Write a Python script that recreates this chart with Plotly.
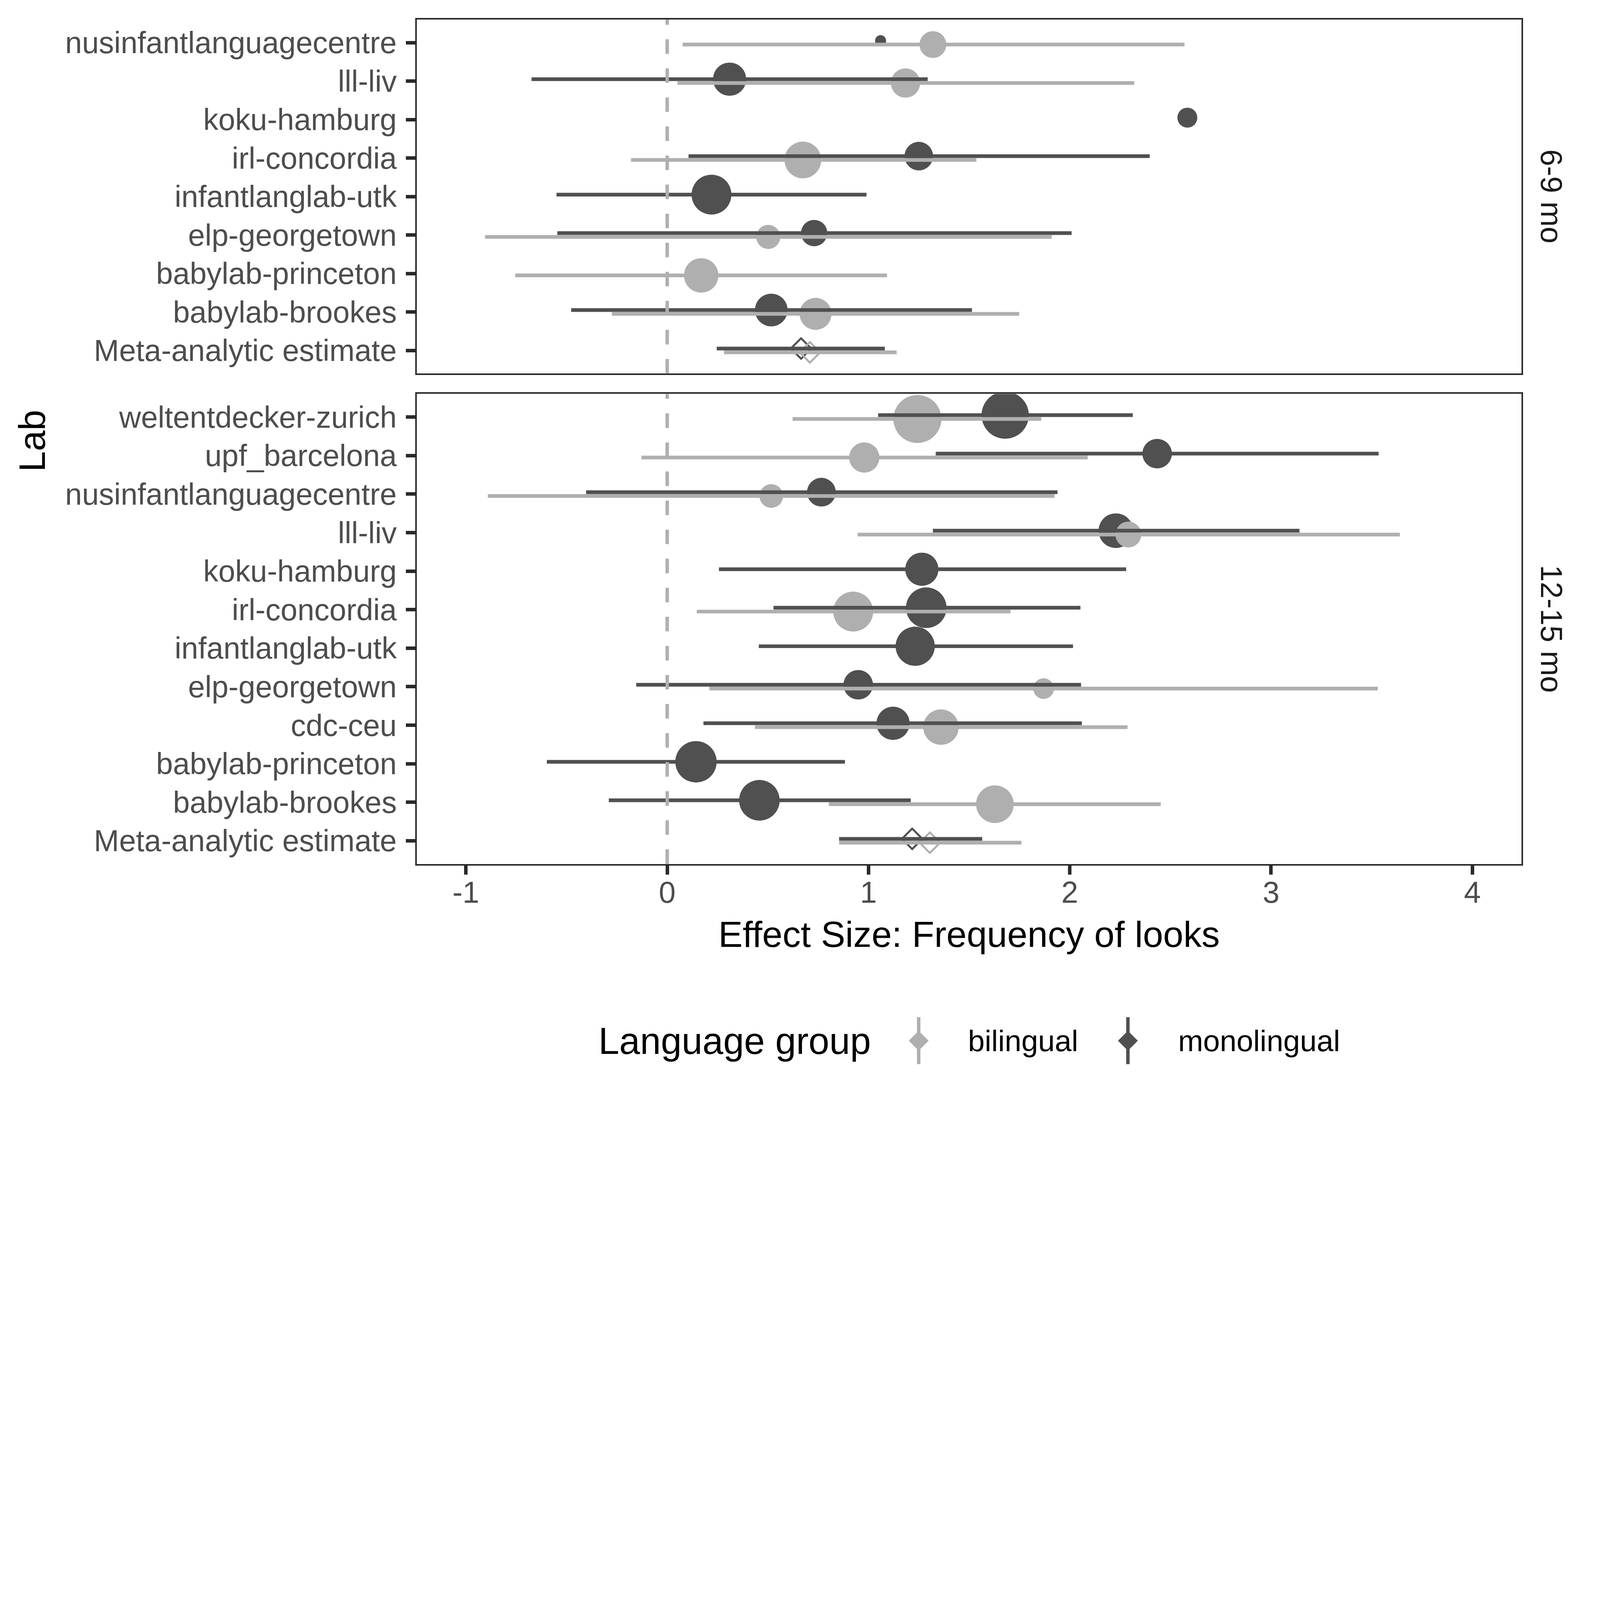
import plotly.graph_objects as go

# ---------------- data ----------------
# lab order on each facet, bottom -> top
labs_69 = ["Meta-analytic estimate", "babylab-brookes", "babylab-princeton", "elp-georgetown",
           "infantlanglab-utk", "irl-concordia", "koku-hamburg", "lll-liv", "nusinfantlanguagecentre"]
labs_1215 = ["Meta-analytic estimate", "babylab-brookes", "babylab-princeton", "cdc-ceu",
             "elp-georgetown", "infantlanglab-utk", "irl-concordia", "koku-hamburg", "lll-liv",
             "nusinfantlanguagecentre", "upf_barcelona", "weltentdecker-zurich"]

# 6-9 mo, monolingual
mono69_lab = ["nusinfantlanguagecentre", "lll-liv", "koku-hamburg", "irl-concordia",
              "infantlanglab-utk", "elp-georgetown", "babylab-brookes"]
mono69_d = [1.06, 0.31, 2.584, 1.25, 0.22, 0.73, 0.517]
mono69_lo = [None, -0.674, None, 0.106, -0.55, -0.546, -0.477]
mono69_hi = [None, 1.294, None, 2.397, 0.99, 2.009, 1.514]
mono69_w = [4.5, 13.5, 8.1, 11.6, 16.2, 10.7, 13.3]

# 6-9 mo, bilingual
bi69_lab = ["nusinfantlanguagecentre", "lll-liv", "irl-concordia", "elp-georgetown",
            "babylab-princeton", "babylab-brookes"]
bi69_d = [1.32, 1.184, 0.674, 0.502, 0.169, 0.737]
bi69_lo = [0.077, 0.051, -0.18, -0.905, -0.755, -0.275]
bi69_hi = [2.57, 2.32, 1.536, 1.91, 1.092, 1.749]
bi69_w = [10.9, 11.9, 14.9, 9.8, 14.0, 13.0]

# 12-15 mo, monolingual
mono1215_lab = ["weltentdecker-zurich", "upf_barcelona", "nusinfantlanguagecentre", "lll-liv",
                "koku-hamburg", "irl-concordia", "infantlanglab-utk", "elp-georgetown",
                "cdc-ceu", "babylab-princeton", "babylab-brookes"]
mono1215_d = [1.679, 2.434, 0.766, 2.229, 1.265, 1.287, 1.232, 0.949, 1.122, 0.143, 0.458]
mono1215_lo = [1.048, 1.334, -0.403, 1.32, 0.257, 0.528, 0.455, -0.154, 0.18, -0.598, -0.29]
mono1215_hi = [2.313, 3.534, 1.939, 3.141, 2.28, 2.053, 2.016, 2.056, 2.06, 0.883, 1.21]
mono1215_w = [19.2, 12.0, 11.7, 14.1, 13.5, 16.5, 15.9, 12.0, 13.5, 16.8, 16.5]

# 12-15 mo, bilingual
bi1215_lab = ["weltentdecker-zurich", "upf_barcelona", "nusinfantlanguagecentre", "lll-liv",
              "irl-concordia", "elp-georgetown", "cdc-ceu", "babylab-brookes"]
bi1215_d = [1.243, 0.979, 0.517, 2.291, 0.924, 1.87, 1.36, 1.628]
bi1215_lo = [0.623, -0.128, -0.891, 0.946, 0.147, 0.209, 0.436, 0.803]
bi1215_hi = [1.858, 2.089, 1.924, 3.64, 1.705, 3.53, 2.287, 2.452]
bi1215_w = [19.5, 12.3, 9.6, 10.5, 16.2, 8.4, 14.4, 15.3]

# meta-analytic estimates: [estimate, lower, upper]
meta69_mono = [0.665, 0.246, 1.081]
meta69_bi = [0.709, 0.282, 1.14]
meta1215_mono = [1.217, 0.854, 1.565]
meta1215_bi = [1.305, 0.854, 1.76]

groups = ["bilingual", "monolingual"]
x_ticks = [-1, 0, 1, 2, 3, 4]

# ---------------- style ----------------
S = 4096 / 6500  # browser viewport caps at 4096 px, keep the 6500x4500 proportions
DARK = "#505050"
LIGHT = "#AFAFAF"
BORDER = "#2A2A2A"
FONT = "Liberation Sans, Arial, sans-serif"
PT = 10 * S  # marker px per weight unit
DODGE = {"monolingual": 0.05, "bilingual": -0.05}
COL = {"monolingual": DARK, "bilingual": LIGHT}

fig = go.Figure()

panels = [
    (labs_69, "x", "y",
     {"monolingual": (mono69_lab, mono69_d, mono69_lo, mono69_hi, mono69_w, meta69_mono),
      "bilingual": (bi69_lab, bi69_d, bi69_lo, bi69_hi, bi69_w, meta69_bi)}),
    (labs_1215, "x2", "y2",
     {"monolingual": (mono1215_lab, mono1215_d, mono1215_lo, mono1215_hi, mono1215_w, meta1215_mono),
      "bilingual": (bi1215_lab, bi1215_d, bi1215_lo, bi1215_hi, bi1215_w, meta1215_bi)}),
]

for labs, xa, ya, data in panels:
    idx = {lab: i + 1 for i, lab in enumerate(labs)}
    # points first
    for g in ["monolingual", "bilingual"]:
        lab, d, lo, hi, w, meta = data[g]
        fig.add_trace(go.Scatter(
            x=d, y=[idx[l] + DODGE[g] for l in lab], mode="markers",
            marker=dict(size=[v * PT for v in w], color=COL[g], opacity=1, line_width=0),
            xaxis=xa, yaxis=ya, showlegend=False, hoverinfo="skip"))
        fig.add_trace(go.Scatter(
            x=[meta[0]], y=[idx["Meta-analytic estimate"] + DODGE[g]], mode="markers",
            marker=dict(symbol="diamond-open", size=64 * S, color=COL[g], opacity=1,
                        line=dict(color=COL[g], width=8 * S)),
            xaxis=xa, yaxis=ya, showlegend=False, hoverinfo="skip"))
    # ranges drawn on top of points
    for g in ["monolingual", "bilingual"]:
        lab, d, lo, hi, w, meta = data[g]
        rows = [(l, m, a, b) for l, m, a, b in zip(lab, d, lo, hi) if a is not None]
        rows.append(("Meta-analytic estimate", meta[0], meta[1], meta[2]))
        fig.add_trace(go.Scatter(
            x=[r[1] for r in rows], y=[idx[r[0]] + DODGE[g] for r in rows], mode="markers",
            marker=dict(size=1, color="rgba(0,0,0,0)"),
            error_x=dict(type="data", symmetric=False,
                         array=[r[3] - r[1] for r in rows],
                         arrayminus=[r[1] - r[2] for r in rows],
                         width=0, thickness=15 * S, color=COL[g]),
            xaxis=xa, yaxis=ya, showlegend=False, hoverinfo="skip"))

# legend keys on their own small axis (x in reference-pixel units)
for g, xk in zip(groups, [3732, 4582]):
    fig.add_trace(go.Scatter(
        x=[xk], y=[0], mode="markers",
        marker=dict(symbol="diamond", size=62 * S, color=COL[g], opacity=1, line_width=0),
        error_y=dict(type="data", array=[1], width=0, thickness=14 * S, color=COL[g]),
        xaxis="x3", yaxis="y3", showlegend=False, hoverinfo="skip"))

tickfont = dict(family=FONT, size=123 * S, color="#4D4D4D")
xcommon = dict(range=[-1.244, 4.244], showgrid=False, zeroline=False, showline=True,
               mirror=True, linecolor=BORDER, linewidth=6 * S,
               tickvals=x_ticks, ticktext=[str(v) for v in x_ticks])
ycommon = dict(showgrid=False, zeroline=False, showline=True, mirror=True,
               linecolor=BORDER, linewidth=6 * S, ticks="outside", ticklen=38 * S,
               tickwidth=14 * S, tickcolor=BORDER, tickfont=tickfont,
               ticklabelstandoff=round(12 * S))

fig.update_layout(
    width=4096, height=round(4500 * S),
    margin=dict(l=1693 * S, r=319 * S, t=79 * S, b=100 * S, pad=0),
    paper_bgcolor="white", plot_bgcolor="white",
    font=dict(family=FONT),
    showlegend=False,
    xaxis=dict(**xcommon, domain=[0, 1], anchor="y", ticks="", showticklabels=False),
    xaxis2=dict(**xcommon, domain=[0, 1], anchor="y2", ticks="outside", ticklen=38 * S,
                tickwidth=14 * S, tickcolor=BORDER, tickfont=tickfont,
                ticklabelstandoff=round(-34 * S)),
    yaxis=dict(**ycommon, domain=[0.66721, 1.0], anchor="x", range=[0.4, 9.6],
               tickvals=list(range(1, len(labs_69) + 1)), ticktext=labs_69),
    yaxis2=dict(**ycommon, domain=[0.20620, 0.64800], anchor="x2", range=[0.4, 12.6],
                tickvals=list(range(1, len(labs_1215) + 1)), ticktext=labs_1215),
    xaxis3=dict(domain=[0, 1], anchor="y3", range=[1693, 6181], visible=False),
    yaxis3=dict(domain=[0.01782, 0.06202], anchor="x3", range=[-1, 1], visible=False),
)

# dashed reference line at zero in each facet
for xr, yr in [("x", "y domain"), ("x2", "y2 domain")]:
    fig.add_shape(type="line", xref=xr, yref=yr, x0=0, x1=0, y0=0, y1=1, layer="above",
                  line=dict(color=LIGHT, width=14 * S, dash="%.1fpx,%.1fpx" % (59 * S, 59 * S)))

ann = [
    dict(text="Lab", x=-0.34826, y=0.6038, textangle=-90,
         font=dict(size=151 * S, color="black")),
    dict(text="Effect Size: Frequency of looks", x=0.5, y=0.1401,
         font=dict(size=148 * S, color="black")),
    dict(text="6-9 mo", x=1.02718, y=0.8336, textangle=90,
         font=dict(size=123 * S, color="#1A1A1A")),
    dict(text="12-15 mo", x=1.02718, y=0.4271, textangle=90,
         font=dict(size=123 * S, color="#1A1A1A")),
]
for a in ann:
    fig.add_annotation(xref="paper", yref="paper", showarrow=False,
                       xanchor="center", yanchor="middle", **a)

for txt, xl, fs in [("Language group", 2430, 152), ("bilingual", 3931, 122), ("monolingual", 4784, 122)]:
    fig.add_annotation(text=txt, xref="x3", yref="y3", x=xl, y=0, xanchor="left",
                       yanchor="middle", showarrow=False, borderpad=0,
                       font=dict(size=fs * S, color="black", family=FONT))

fig.write_html("out.html", config={"displayModeBar": False},
               post_script="document.body.style.margin='0';")
